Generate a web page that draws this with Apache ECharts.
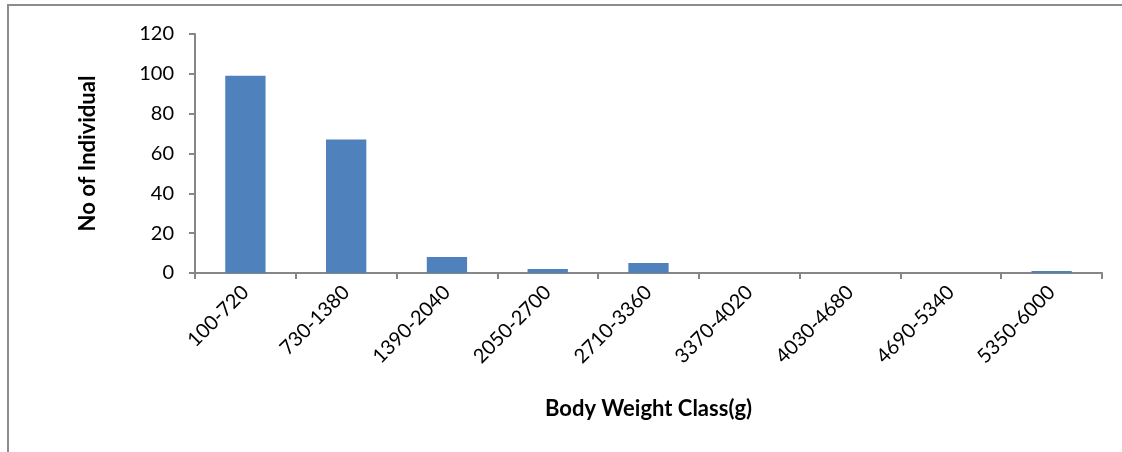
<!DOCTYPE html>
<html>
<head>
<meta charset="utf-8">
<script src="https://cdn.jsdelivr.net/npm/echarts@6/dist/echarts.min.js"></script>
<style>
html,body{margin:0;padding:0;background:#fff;}
#frame{position:absolute;left:7px;top:4px;width:1200px;height:500px;border-left:2px solid #8c8c8c;border-top:2px solid #8c8c8c;}
#chart{position:absolute;left:0;top:0;width:1122px;height:452px;}
</style>
</head>
<body>
<div id="frame"></div>
<div id="chart"></div>
<script>
var categories = ['100-720','730-1380','1390-2040','2050-2700','2710-3360','3370-4020','4030-4680','4690-5340','5350-6000'];
var counts = [99, 67, 8, 2, 5, 0, 0, 0, 1];
var yTicks = [0, 20, 40, 60, 80, 100, 120];

var chart = echarts.init(document.getElementById('chart'), null, {renderer:'canvas'});
var font = 'Lato, "Open Sans", sans-serif';
chart.setOption({
  backgroundColor: 'transparent',
  animation: false,
  grid: {left: 195, right: 20, top: 34, bottom: 179, containLabel: false},
  xAxis: {
    type: 'category',
    data: categories,
    name: 'Body Weight Class(g)',
    nameLocation: 'middle',
    nameGap: 125,
    nameTextStyle: {fontFamily: font, fontWeight: 'bold', fontSize: 22, color: '#000'},
    axisLine: {lineStyle: {color: '#868686', width: 2}},
    axisTick: {show: true, alignWithLabel: false, length: 6, lineStyle: {color: '#868686', width: 2}},
    axisLabel: {rotate: 45, fontFamily: font, fontSize: 20, color: '#000', margin: 16, interval: 0}
  },
  yAxis: {
    type: 'value',
    min: yTicks[0],
    max: yTicks[yTicks.length - 1],
    interval: 20,
    name: 'No of Individual',
    nameLocation: 'middle',
    nameGap: 96,
    nameRotate: 90,
    nameTextStyle: {fontFamily: font, fontWeight: 'bold', fontSize: 22, color: '#000'},
    axisLine: {show: true, lineStyle: {color: '#868686', width: 2}},
    axisTick: {show: true, length: 6, lineStyle: {color: '#868686', width: 2}},
    axisLabel: {fontFamily: font, fontSize: 20, color: '#000', margin: 21},
    splitLine: {show: false}
  },
  series: [{
    type: 'bar',
    data: counts,
    barWidth: '40%',
    itemStyle: {color: '#4F81BD', borderWidth: 0}
  }]
});
</script>
</body>
</html>
